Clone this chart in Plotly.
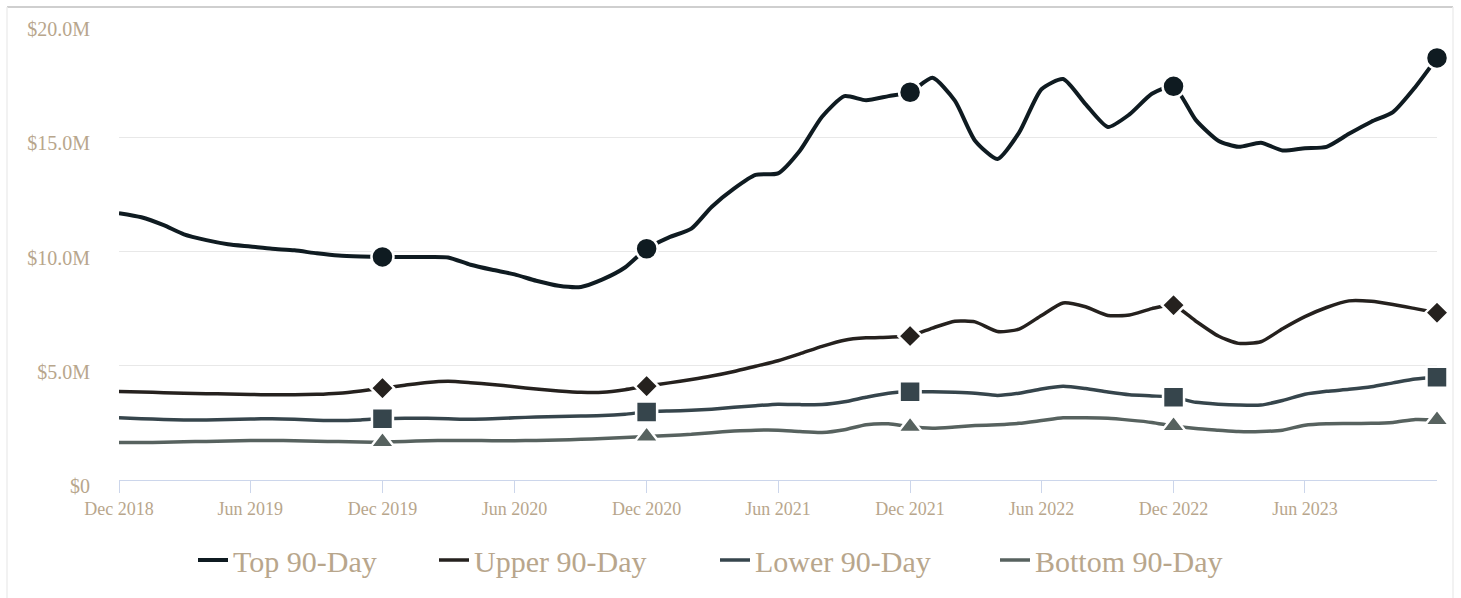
import pandas as pd
import plotly.graph_objects as go

# Monthly dates Dec 2018 .. Dec 2023
dates = pd.date_range("2018-12-01", "2023-12-01", freq="MS")

top = [11.68, 11.50, 11.15, 10.75, 10.50, 10.32, 10.22, 10.12, 10.05, 9.92, 9.82, 9.78,
       9.76, 9.76, 9.76, 9.74, 9.42, 9.20, 9.00, 8.72, 8.50, 8.45, 8.78, 9.30,
       10.12, 10.62, 11.00, 11.95, 12.75, 13.35, 13.42, 14.40, 15.90, 16.80, 16.62, 16.80,
       16.97, 17.60, 16.60, 14.85, 14.05, 15.20, 17.10, 17.55, 16.45, 15.45, 16.00, 16.90,
       17.23, 15.75, 14.85, 14.58, 14.76, 14.42, 14.52, 14.58, 15.15, 15.68, 16.10, 17.20,
       18.47]
upper = [3.87, 3.85, 3.82, 3.80, 3.78, 3.76, 3.74, 3.73, 3.73, 3.75, 3.80, 3.90,
         4.02, 4.15, 4.27, 4.32, 4.26, 4.18, 4.08, 3.98, 3.90, 3.84, 3.84, 3.95,
         4.11, 4.25, 4.40, 4.55, 4.75, 4.98, 5.22, 5.52, 5.85, 6.12, 6.22, 6.25,
         6.30, 6.65, 6.95, 6.92, 6.50, 6.60, 7.20, 7.75, 7.58, 7.20, 7.22, 7.50,
         7.65, 6.95, 6.30, 5.98, 6.05, 6.62, 7.15, 7.55, 7.84, 7.82, 7.68, 7.50,
         7.32]
lower = [2.72, 2.68, 2.65, 2.63, 2.63, 2.65, 2.67, 2.68, 2.66, 2.62, 2.60, 2.63,
         2.68, 2.70, 2.70, 2.68, 2.66, 2.68, 2.72, 2.76, 2.78, 2.80, 2.82, 2.88,
         2.98, 3.02, 3.05, 3.10, 3.18, 3.25, 3.32, 3.30, 3.30, 3.42, 3.62, 3.80,
         3.86, 3.86, 3.84, 3.80, 3.70, 3.80, 3.98, 4.10, 4.00, 3.85, 3.73, 3.68,
         3.62, 3.40, 3.32, 3.28, 3.28, 3.48, 3.75, 3.88, 3.97, 4.08, 4.25, 4.42,
         4.50]
bottom = [1.64, 1.64, 1.65, 1.67, 1.69, 1.71, 1.73, 1.73, 1.72, 1.70, 1.68, 1.66,
          1.66, 1.69, 1.72, 1.73, 1.73, 1.72, 1.72, 1.73, 1.75, 1.78, 1.82, 1.86,
          1.90, 1.95, 2.00, 2.07, 2.14, 2.18, 2.18, 2.12, 2.08, 2.20, 2.42, 2.46,
          2.33, 2.27, 2.32, 2.38, 2.42, 2.48, 2.60, 2.72, 2.72, 2.70, 2.62, 2.52,
          2.36, 2.25, 2.18, 2.12, 2.12, 2.18, 2.40, 2.46, 2.47, 2.48, 2.52, 2.65,
          2.63]

names = ["Top 90-Day", "Upper 90-Day", "Lower 90-Day", "Bottom 90-Day"]
colors = ["#0f1b21", "#25211e", "#36454c", "#57625f"]
symbols = ["circle", "diamond", "square", "triangle-up"]
msizes = [22, 18, 21, 21]
lwidths = [4, 3.5, 3.5, 3.5]
legend_x_px = [193, 434, 715, 995]

y_ticks = [0, 5, 10, 15, 20]
y_labels = ["$0", "$5.0M", "$10.0M", "$15.0M", "$20.0M"]
x_ticks = pd.date_range("2018-12-01", "2023-06-01", freq="6MS")
x_labels = [d.strftime("%b %Y") for d in x_ticks]

MARK_IDX = [12, 24, 36, 48, 60]

tan = "#b8a68c"
L, R, T, B = 119, 1437, 23, 480
W, H = 1461, 598


def px_x(p):
    return (p - L) / (R - L)


def px_y(p):
    return (B - p) / (B - T)


fig = go.Figure()
series = [top, upper, lower, bottom]
legend_ids = ["legend", "legend2", "legend3", "legend4"]
for name, vals, col, lw, lid in zip(names, series, colors, lwidths, legend_ids):
    fig.add_trace(go.Scatter(
        x=dates, y=[v * 1e6 for v in vals], mode="lines", name=name, legend=lid,
        line=dict(color=col, width=lw, shape="spline", smoothing=0.6),
        hoverinfo="skip", cliponaxis=False))
for name, vals, col, sym, ms in zip(names, series, colors, symbols, msizes):
    fig.add_trace(go.Scatter(
        x=[dates[i] for i in MARK_IDX], y=[vals[i] * 1e6 for i in MARK_IDX],
        mode="markers", showlegend=False, hoverinfo="skip", cliponaxis=False,
        marker=dict(symbol=sym, size=ms, color=col, line=dict(color="white", width=2.5))))

legend_common = dict(orientation="h", xanchor="left", y=px_y(560), yanchor="middle",
                     font=dict(size=30, color=tan, family="Liberation Serif"),
                     itemwidth=30, bgcolor="rgba(0,0,0,0)")
legends = {}
for lid, lx in zip(legend_ids, legend_x_px):
    legends[lid] = dict(legend_common, x=px_x(lx))

fig.update_layout(
    width=W, height=H,
    margin=dict(l=L, r=W - R, t=T, b=H - B, autoexpand=False),
    paper_bgcolor="white", plot_bgcolor="white",
    font=dict(family="Liberation Serif", color=tan),
    showlegend=True,
    xaxis=dict(type="date", range=[dates[0], dates[-1]],
               tickvals=list(x_ticks), ticktext=x_labels,
               tickfont=dict(size=18, color=tan),
               showgrid=False, showline=True, linecolor="#ccd6eb", linewidth=1,
               ticks="outside", ticklen=12, tickcolor="#ccd6eb", tickwidth=1,
               zeroline=False, fixedrange=True, automargin=False),
    yaxis=dict(range=[0, 20e6], tickvals=[v * 1e6 for v in y_ticks], ticktext=y_labels,
               tickfont=dict(size=20, color=tan),
               showgrid=True, gridcolor="#e8e8e8", gridwidth=1,
               zeroline=False, showline=False, ticks="", ticklabelstandoff=28,
               ticklabelshift=6, fixedrange=True, automargin=False),
    **legends,
)

fig.add_shape(type="line", xref="paper", yref="paper",
              x0=px_x(7), x1=px_x(1453), y0=px_y(7), y1=px_y(7),
              line=dict(color="#cfcfcf", width=2), layer="below")
fig.add_shape(type="line", xref="paper", yref="paper",
              x0=px_x(7), x1=px_x(7), y0=px_y(7), y1=px_y(600),
              line=dict(color="#eeeeee", width=1.5), layer="below")
fig.add_shape(type="line", xref="paper", yref="paper",
              x0=px_x(1453), x1=px_x(1453), y0=px_y(7), y1=px_y(600),
              line=dict(color="#eeeeee", width=1.5), layer="below")

fig.write_html("out.html")
